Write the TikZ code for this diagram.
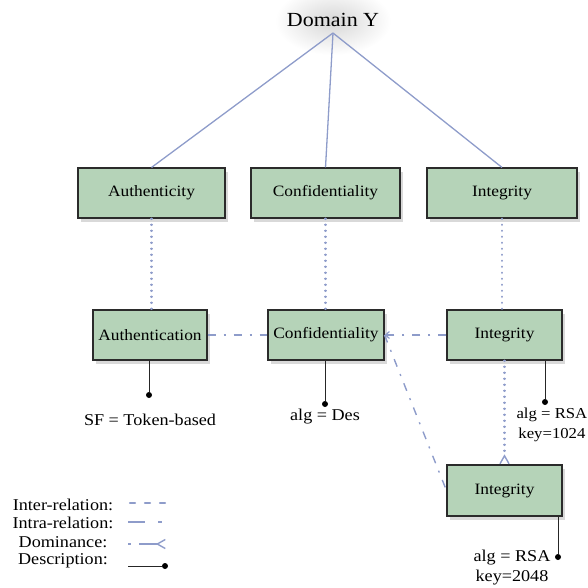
\documentclass[tikz,border=0pt]{standalone}
\usepackage{fontspec}
\setmainfont{Liberation Serif}[FakeStretch=1.1]
\usetikzlibrary{arrows.meta,shadows}
\definecolor{boxfill}{HTML}{B5D3B8}
\definecolor{lnk}{HTML}{8E9CCA}
\definecolor{boxline}{HTML}{2B2B2B}
\tikzset{
 box/.style={draw=boxline, line width=1.1pt, fill=boxfill, minimum height=50pt, inner sep=0pt,
   font=\fontsize{15.8}{19}\selectfont,
   drop shadow={shadow xshift=2.5pt, shadow yshift=-3.5pt, opacity=0.3}},
 tree/.style={lnk, line width=1.3pt},
 inter/.style={lnk, line width=2.1pt, line cap=round, dash pattern=on 0.4pt off 5.6pt},
 intra/.style={lnk, line width=1.4pt, dash pattern=on 8pt off 8pt on 2pt off 8pt},
 legdash/.style={lnk, line width=2.4pt, line cap=round, dash pattern=on 5pt off 10pt},
 domin/.style={lnk, line width=1.8pt},
 foot/.style={-{Straight Barb[reversed, length=8pt, width=9pt, line width=1.4pt]}},
 desc/.style={black!85, line width=0.9pt},
 dotn/.style={circle, fill=black, inner sep=0pt, minimum size=6pt},
 lbl/.style={font=\fontsize{16.5}{20}\selectfont, inner sep=0pt},
}
\begin{document}
\begin{tikzpicture}[x=1pt,y=-1pt]
\useasboundingbox (0,0) rectangle (588,587);
% glow behind the title
\shade[inner color=black!16, outer color=white] (333,21) ellipse (58pt and 34pt);
\node[font=\fontsize{20}{24}\selectfont, inner sep=0pt] (dom) at (333,20) {Domain Y};
\coordinate (root) at (333,33);

\node[box, minimum width=147pt] (a1) at (151.5,193) {Authenticity};
\node[box, minimum width=149pt] (c1) at (325.5,193) {Confidentiality};
\node[box, minimum width=150pt] (i1) at (502,193) {Integrity};
\node[box, minimum width=114pt] (a2) at (150,335) {Authentication};
\node[box, minimum width=116pt] (c2) at (326,335) {Confidentiality};
\node[box, minimum width=115pt] (i2) at (504.5,335) {Integrity};
\node[box, minimum width=115pt, minimum height=51pt] (i3) at (504.5,490.5) {Integrity};

% tree
\draw[tree] (root) -- (a1.north);
\draw[tree] (root) -- (c1.north);
\draw[tree] (root) -- (i1.north);

% inter-relations
\draw[inter] (a1.south) -- (a1.south |- a2.north);
\draw[inter] (c1.south) -- (c1.south |- c2.north);
\draw[inter] (i1.south) -- (i1.south |- i2.north);
\draw[inter, foot] (i2.south) -- (i3.north);

% intra-relations
\draw[intra] (a2.east) -- (c2.west);
\draw[intra, -{Straight Barb[length=4pt, width=7pt, line width=1.2pt]}] (i2.west) -- (c2.east);
\draw[intra] (c2.east) -- (i3.west);

% descriptions
\node[dotn] (d1) at (149,395) {};
\draw[desc] (d1 |- a2.south) -- (d1);
\node[lbl] (t1) at (150,420) {SF = Token-based};
\node[dotn] (d2) at (325,404) {};
\draw[desc] (d2 |- c2.south) -- (d2);
\node[lbl] (t2) at (325,417) {alg = Des};
\node[dotn] (d3) at (545,402) {};
\draw[desc] (d3 |- i2.south) -- (d3);
\node[lbl, font=\fontsize{15.2}{20}\selectfont, align=center, anchor=east] (t3) at (587.5,425) {alg = RSA\\key=1024};
\node[dotn] (d4) at (558,557) {};
\draw[desc] (d4 |- i3.south) -- (d4);
\node[lbl, align=center] (t4) at (512,568) {alg = RSA\\key=2048};

% legend
\node[lbl] (l1) at (63,505) {Inter-relation:};
\node[lbl] (l2) at (63,523) {Intra-relation:};
\node[lbl] (l3) at (63,542) {Dominance:};
\node[lbl] (l4) at (63,561) {Description:};
\coordinate (l1a) at (130,503); \coordinate (l1b) at (170,503);
\coordinate (l2a) at (128,522); \coordinate (l2b) at (168,522);
\coordinate (l3a) at (128,544); \coordinate (l3b) at (166,544);
\coordinate (l4a) at (128,566);
\draw[legdash] (l1a) -- (l1b);
\draw[lnk, line width=2.2pt, dash pattern=on 17pt off 13pt on 4pt off 10pt] (l2a) -- (l2b);
\draw[domin, dash pattern=on 3pt off 8pt on 30pt, foot] (l3a) -- (l3b);
\node[dotn] (l4b) at (165,566) {};
\draw[desc] (l4a) -- (l4b);
\end{tikzpicture}
\end{document}
